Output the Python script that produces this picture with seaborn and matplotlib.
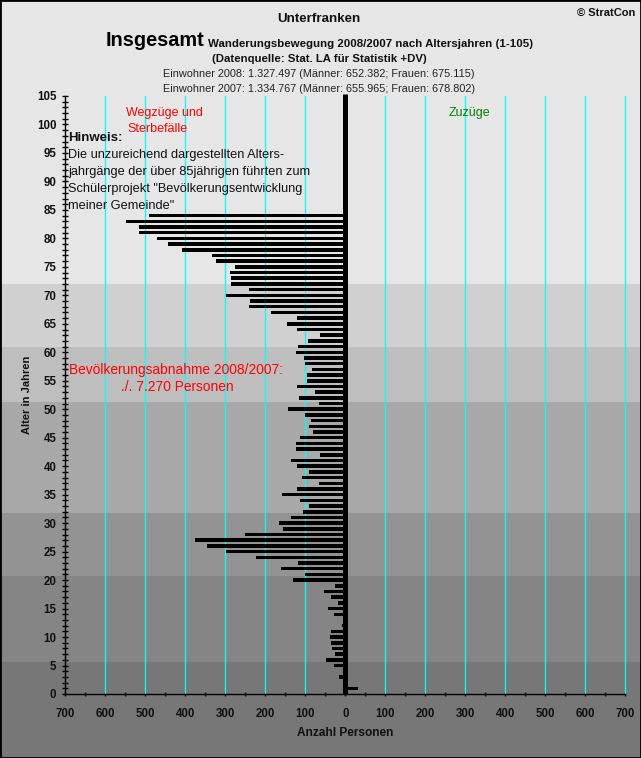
import numpy as np
import pandas as pd
import matplotlib
matplotlib.use('Agg')
import matplotlib.pyplot as plt
import seaborn as sns

# net migration per age year
ages = list(range(1, 85))
saldo = [
    32, 0, -16, 0, -28, -48, -26, -33, -36, -38,       # 1-10
    -35, -8, 0, -28, -43, -18, -36, -53, -26, -131,    # 11-20
    -100, -161, -118, -223, -298, -345, -375, -251, -156, -166,  # 21-30
    -135, -106, -90, -113, -158, -121, -66, -108, -91, -121,     # 31-40
    -136, -63, -123, -123, -113, -82, -91, -86, -101, -143,      # 41-50
    -66, -116, -76, -121, -96, -96, -83, -101, -103, -123,       # 51-60
    -118, -93, -63, -121, -146, -121, -186, -241, -238, -298,    # 61-70
    -241, -286, -286, -288, -276, -323, -333, -408, -443, -471,  # 71-80
    -516, -516, -548, -491,                                      # 81-84
]

# grey bands behind the chart (age limits and colours)
band_edges = [-20, 5.6, 20.7, 31.8, 51.2, 60.9, 72, 120]
band_colors = ['#777777', '#858585', '#939393', '#a8a8a8', '#bebebe', '#d0d0d0', '#e6e6e6']

x_major = list(range(-700, 701, 100))
x_labels = [str(abs(v)) for v in x_major]
y_major = list(range(0, 106, 5))

sns.set_theme(style='white')
plt.rcParams['font.family'] = ['Liberation Sans', 'DejaVu Sans']

df = pd.DataFrame({'Alter': ages, 'Saldo': saldo})

fig = plt.figure(figsize=(6.41, 7.58), dpi=100, facecolor='#e6e6e6')
ax = fig.add_axes([65.4 / 641, 1 - 694 / 758, 560 / 641, 598 / 758])
ax.patch.set_alpha(0)

sns.barplot(data=df, x='Saldo', y='Alter', orient='h', native_scale=True,
            color='black', saturation=1, width=0.62, linewidth=0, edgecolor='black', ax=ax, zorder=4)

ax.set_xlim(-700, 700)
ax.set_ylim(0, 105)

# bands run over the full figure width
for lo, hi, col in zip(band_edges[:-1], band_edges[1:], band_colors):
    ax.axhspan(lo, hi, xmin=-0.12, xmax=1.03, color=col, lw=0, zorder=0, clip_on=False)

for v in x_major[1:]:
    if v != 0:
        ln = ax.axvline(v, color='#00ffff', lw=0.95, zorder=2, clip_on=False)
        ln.set_snap(True)
ax.plot([0, 0], [0, 105.4], color='black', lw=3.6, zorder=5, clip_on=False, solid_capstyle='butt')

for s in ['top', 'right']:
    ax.spines[s].set_visible(False)
for s in ['left', 'bottom']:
    ax.spines[s].set_color('black')
    ax.spines[s].set_linewidth(1.0)

ax.set_xticks(x_major)
ax.set_xticklabels(x_labels)
ax.set_xticks(list(range(-650, 700, 100)), minor=True)
ax.set_yticks(y_major)
ax.set_yticks(list(range(0, 106)), minor=True)
ax.tick_params(axis='x', which='both', direction='inout', length=3, width=1, color='black', bottom=True)
ax.tick_params(axis='x', which='major', labelsize=8.3, pad=8.3, labelcolor='#111111')
ax.tick_params(axis='y', which='both', direction='inout', length=4, width=1, color='black', left=True)
ax.tick_params(axis='y', which='major', labelsize=8.3, pad=4.5, labelcolor='#111111')
for lab in ax.get_xticklabels() + ax.get_yticklabels():
    lab.set_fontweight('bold')

ax.set_xlabel('Anzahl Personen', fontsize=8.6, fontweight='bold', color='#111111', labelpad=5)
ax.set_ylabel('Alter in Jahren', fontsize=8, fontweight='bold', color='#111111')
ax.yaxis.set_label_coords(-0.06, 0.5)


def put(x, y, txt, **kw):
    fig.text(x / 641, 1 - y / 758, txt, va='center', **kw)


put(319, 19, 'Unterfranken', ha='center', fontsize=9.6, fontweight='bold', color='#111111')
put(635, 13, '© StratCon', ha='right', fontsize=8, fontweight='bold', color='#111111')
put(106, 41, 'Insgesamt', ha='left', fontsize=14.3, fontweight='bold', color='black')
put(208, 44, 'Wanderungsbewegung 2008/2007 nach Altersjahren (1-105)', ha='left', fontsize=8.25,
    fontweight='bold', color='#111111')
put(319, 59, '(Datenquelle: Stat. LA für Statistik +DV)', ha='center', fontsize=8.2, fontweight='bold',
    color='#111111')
put(319, 74, 'Einwohner 2008: 1.327.497 (Männer: 652.382; Frauen: 675.115)', ha='center', fontsize=7.8,
    color='#222222')
put(319, 89, 'Einwohner 2007: 1.334.767 (Männer: 655.965; Frauen: 678.802)', ha='center', fontsize=7.8,
    color='#222222')

put(126, 113, 'Wegzüge und', ha='left', fontsize=9, color='#ff0000')
put(127, 129, 'Sterbefälle', ha='left', fontsize=9, color='#ff0000')
put(449, 113, 'Zuzüge', ha='left', fontsize=9, color='#008000')

put(68, 138, 'Hinweis:', ha='left', fontsize=9.5, fontweight='bold', color='#111111')
hinweis = ['Die unzureichend dargestellten Alters-',
           'jahrgänge der über 85jährigen führten zum',
           'Schülerprojekt "Bevölkerungsentwicklung',
           'meiner Gemeinde"']
for i, line in enumerate(hinweis):
    put(68, 155 + i * 17, line, ha='left', fontsize=9.15, color='#111111')

put(69, 370, 'Bevölkerungsabnahme 2008/2007:', ha='left', fontsize=9.9, color='#ff0000')
put(121, 387, './. 7.270 Personen', ha='left', fontsize=9.9, color='#ff0000')

# black frame around the picture
fig.patches.append(plt.Rectangle((0, 0), 1, 1, transform=fig.transFigure, fill=False,
                                 edgecolor='black', lw=2, zorder=20))

fig.savefig('out.png', dpi=100, facecolor=fig.get_facecolor())
